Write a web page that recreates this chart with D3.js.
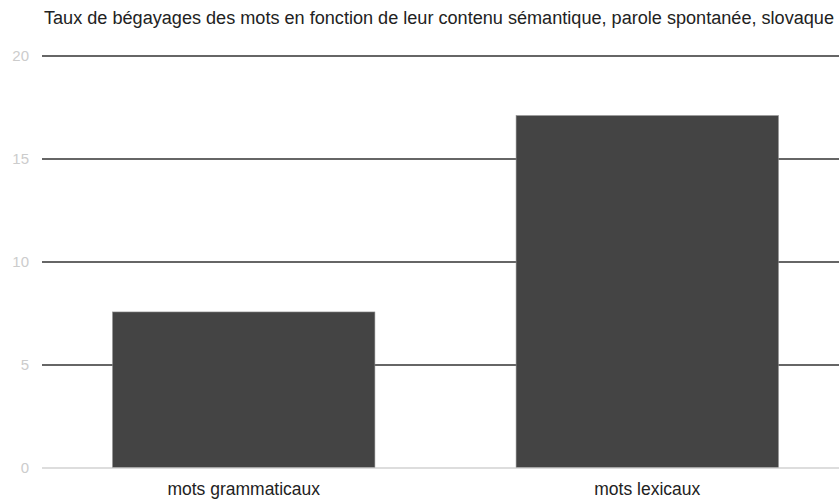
<!DOCTYPE html>
<html>
<head>
<meta charset="utf-8">
<script src="https://cdn.jsdelivr.net/npm/d3@7"></script>
<style>
body { margin: 0; background: #fff; }
svg { display: block; }
</style>
</head>
<body>
<div id="chart"></div>
<script>
var width = 839,
	height = 499;

var categories = ["mots grammaticaux", "mots lexicaux"];
var values = [7.55, 17.08];
var yTicks = [0, 5, 10, 15, 20];
var title = "Taux de bégayages des mots en fonction de leur contenu sémantique, parole spontanée, slovaque";

var margin = {left: 42, top: 56, bottom: 32};
var plotRight = 849;

var svg = d3.select("#chart").append("svg")
	.attr("width", width)
	.attr("height", height)
	.style("font-family", "Arial, 'Liberation Sans', sans-serif");

var x = d3.scaleBand()
	.domain(categories)
	.range([margin.left, plotRight])
	.paddingInner(0.35)
	.paddingOuter(0.175);

var y = d3.scaleLinear()
	.domain([0, 20])
	.range([467.5, 55.5]);

// title
svg.append("text")
	.attr("x", 44)
	.attr("y", 24)
	.attr("font-size", 18)
	.attr("fill", "#222")
	.attr("textLength", 790)
	.attr("lengthAdjust", "spacingAndGlyphs")
	.text(title);

// gridlines
svg.append("g")
	.selectAll("line")
	.data(yTicks.filter(function(d) { return d > 0; }))
	.enter()
	.append("line")
	.attr("x1", margin.left)
	.attr("x2", width)
	.attr("y1", function(d) { return Math.round(y(d)); })
	.attr("y2", function(d) { return Math.round(y(d)); })
	.attr("stroke", "#333")
	.attr("stroke-width", 1.6);

// tick labels
svg.append("g")
	.selectAll("text")
	.data(yTicks)
	.enter()
	.append("text")
	.attr("x", 29)
	.attr("y", function(d) { return y(d) + 5.5; })
	.attr("text-anchor", "end")
	.attr("font-size", 15)
	.attr("fill", "#cccccc")
	.text(function(d) { return d; });

// bars
svg.append("g")
	.selectAll("rect")
	.data(values)
	.enter()
	.append("rect")
	.attr("x", function(d, i) { return x(categories[i]); })
	.attr("width", x.bandwidth())
	.attr("y", function(d) { return y(d); })
	.attr("height", function(d) { return y(0) - y(d); })
	.attr("fill", "#444")
	.attr("stroke", "#888")
	.attr("stroke-width", 0.6);

// baseline
svg.append("line")
	.attr("x1", margin.left)
	.attr("x2", width)
	.attr("y1", y(0) + 0.5)
	.attr("y2", y(0) + 0.5)
	.attr("stroke", "#bbb")
	.attr("stroke-width", 1.2);

// category labels
svg.append("g")
	.selectAll("text")
	.data(categories)
	.enter()
	.append("text")
	.attr("x", function(d) { return x(d) + x.bandwidth() / 2; })
	.attr("y", 495)
	.attr("text-anchor", "middle")
	.attr("font-size", 17.5)
	.attr("fill", "#222")
	.text(function(d) { return d; });
</script>
</body>
</html>
